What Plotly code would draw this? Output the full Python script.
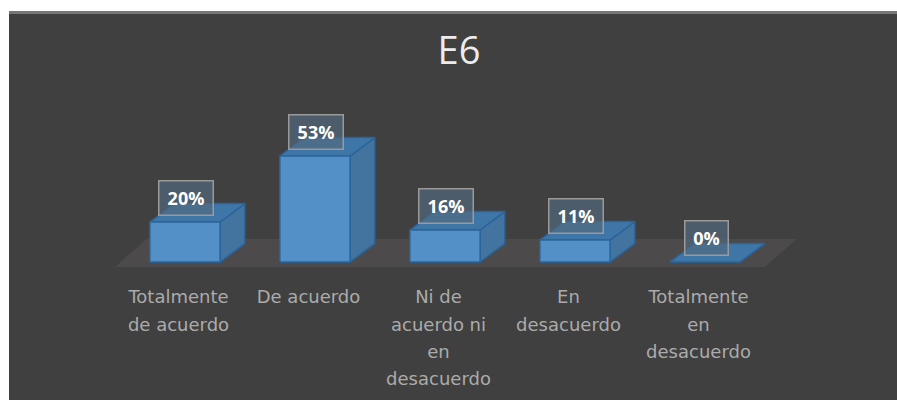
import plotly.graph_objects as go

# Survey answers for item E6
categories = [
    ["Totalmente", "de acuerdo"],
    ["De acuerdo"],
    ["Ni de", "acuerdo ni", "en", "desacuerdo"],
    ["En", "desacuerdo"],
    ["Totalmente", "en", "desacuerdo"],
]
values = [20, 53, 16, 11, 0]
value_labels = ["20%", "53%", "16%", "11%", "0%"]

# Pseudo-3D box geometry, in axis units
BAR_W = 0.54
DEPTH_X = 0.19
DEPTH_Y = 9.2
FLOOR_LEFT = -0.54
FLOOR_RIGHT = 4.46
FLOOR_BACK = 11.5
FLOOR_FRONT = -2.5
LABEL_OFFSET = -0.05

FRONT = "#5490c8"
SIDE = "#43739f"
TOP = "#3f76a8"
EDGE = "#2a649a"
PANEL = "#404040"

fig = go.Figure()


def polygon(xs, ys, fill, line=EDGE):
    fig.add_trace(go.Scatter(
        x=xs + xs[:1], y=ys + ys[:1], mode="lines", fill="toself",
        fillcolor=fill, line=dict(color=line, width=1.5),
        hoverinfo="skip", showlegend=False,
    ))


# Floor the boxes stand on
polygon([FLOOR_LEFT, FLOOR_LEFT + 0.245, FLOOR_RIGHT + 0.245, FLOOR_RIGHT],
        [FLOOR_FRONT, FLOOR_BACK, FLOOR_BACK, FLOOR_FRONT],
        "#4c4a4a", line="rgba(0,0,0,0)")

# Each box: side, top, then front face
for i, v in enumerate(values):
    left, right = i - BAR_W / 2, i + BAR_W / 2
    if v > 0:
        polygon([right, right + DEPTH_X, right + DEPTH_X, right],
                [0, DEPTH_Y, v + DEPTH_Y, v], SIDE)
    polygon([left, left + DEPTH_X, right + DEPTH_X, right],
            [v, v + DEPTH_Y, v + DEPTH_Y, v], TOP)
    if v > 0:
        polygon([left, right, right, left], [0, 0, v, v], FRONT)

# Boxed value labels floating above the front edge of each box
annotations = [
    dict(x=i, y=v, xref="x", yref="y", yshift=24.5, xshift=1, text=f"<b>{t}</b>",
         showarrow=False, font=dict(family="Open Sans", size=18, color="#ffffff"),
         bgcolor="rgba(82,106,128,0.66)", bordercolor="#9a9a9a", borderwidth=1.5,
         width=51 if len(t) == 3 else 40, height=31, align="center", valign="middle")
    for i, (v, t) in enumerate(zip(values, value_labels))
]

ticktext = [
    "<br>".join(f'<span style="font-size:18px">{line}</span>' for line in lines)
    for lines in categories
]

fig.update_layout(
    width=897, height=400,
    margin=dict(l=0, r=0, t=0, b=133),
    paper_bgcolor="#ffffff",
    plot_bgcolor="rgba(0,0,0,0)",
    title=dict(text="E6", x=459 / 897, xanchor="center", y=1 - 51 / 400, yanchor="middle",
               font=dict(family="Open Sans", size=38, color="#ececec")),
    xaxis=dict(
        range=[-185 / 130, (897 - 185) / 130],
        tickmode="array",
        tickvals=[i + LABEL_OFFSET for i in range(len(values))],
        ticktext=ticktext,
        tickfont=dict(family="DejaVu Sans", size=21, color="#ababab"),
        ticks="outside", ticklen=10, tickcolor="rgba(0,0,0,0)",
        showgrid=False, zeroline=False, showline=False,
    ),
    yaxis=dict(range=[FLOOR_FRONT, 131], visible=False),
    annotations=annotations,
    shapes=[
        dict(type="rect", xref="paper", yref="paper", layer="below",
             x0=9 / 897, x1=1, y0=-133 / 267, y1=1 - 11 / 267,
             fillcolor=PANEL, line=dict(width=0)),
        dict(type="rect", xref="paper", yref="paper", layer="below",
             x0=9 / 897, x1=1, y0=1 - 14 / 267, y1=1 - 11 / 267,
             fillcolor="#777777", line=dict(width=0)),
    ],
    showlegend=False,
)

fig.write_html("out.html")
